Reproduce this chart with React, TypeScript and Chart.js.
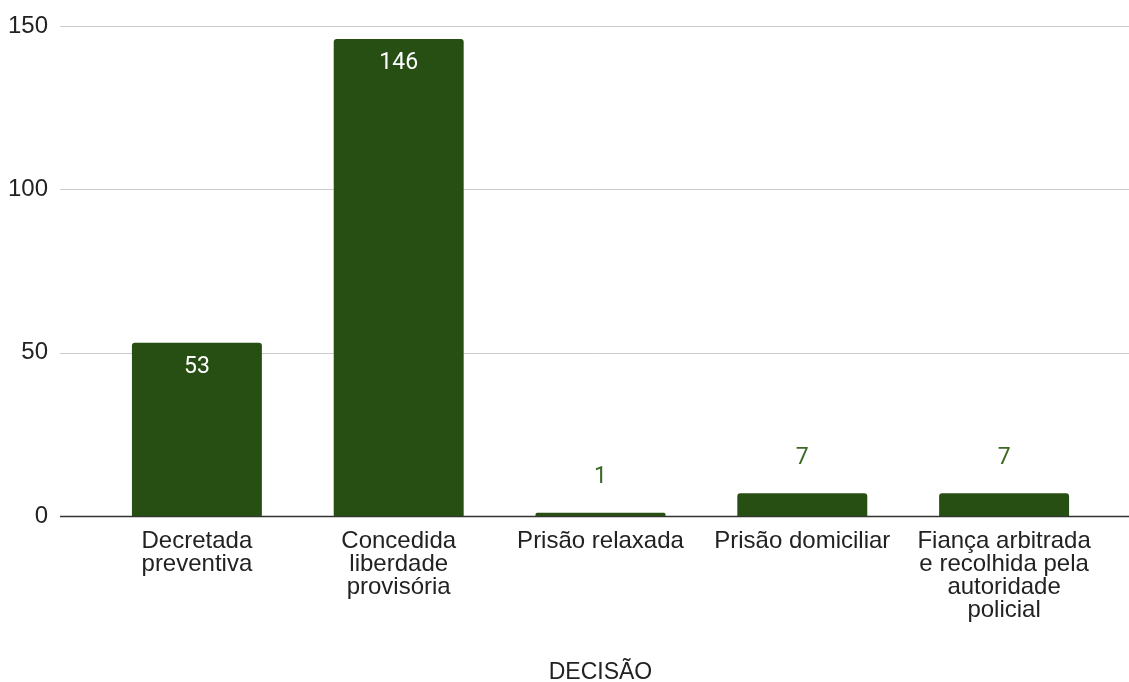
import React, { useEffect, useRef } from "react";
import { Chart, registerables } from "chart.js";

Chart.register(...registerables);

const categories = [
  "Decretada preventiva",
  "Concedida liberdade provisória",
  "Prisão relaxada",
  "Prisão domiciliar",
  "Fiança arbitrada e recolhida pela autoridade policial",
];
const tickLabels = [
  ["Decretada", "preventiva"],
  ["Concedida", "liberdade", "provisória"],
  ["Prisão relaxada"],
  ["Prisão domiciliar"],
  ["Fiança arbitrada", "e recolhida pela", "autoridade", "policial"],
];
const values = [53, 146, 1, 7, 7];
const yTicks = [0, 50, 100, 150];
const xTitle = "DECISÃO";

const BAR = "#274e13";
const LABEL_OUT = "#3b6a25";
const AXIS_FONT = "Liberation Sans, Arial, sans-serif";

const gridPlugin = {
  id: "wideGrid",
  beforeDatasetsDraw(chart: any) {
    const { ctx } = chart;
    const y = chart.scales.y;
    ctx.save();
    yTicks.forEach((t) => {
      const py = Math.round(y.getPixelForValue(t)) + 0.5;
      ctx.beginPath();
      ctx.strokeStyle = t === 0 ? "#333333" : "#cccccc";
      ctx.lineWidth = t === 0 ? 1.5 : 1;
      ctx.moveTo(60, py);
      ctx.lineTo(1129, py);
      ctx.stroke();
    });
    ctx.restore();
  },
};

const labelPlugin = {
  id: "barLabels",
  afterDatasetsDraw(chart: any) {
    const { ctx } = chart;
    const meta = chart.getDatasetMeta(0);
    ctx.save();
    ctx.font = "23px Roboto";
    ctx.textAlign = "center";
    ctx.textBaseline = "middle";
    meta.data.forEach((bar: any, i: number) => {
      const v = values[i];
      const h = bar.base - bar.y;
      if (h > 40) {
        ctx.fillStyle = "#ffffff";
        ctx.fillText(String(v), bar.x, bar.y + 24);
      } else {
        ctx.fillStyle = LABEL_OUT;
        ctx.fillText(String(v), bar.x, bar.y - 35);
      }
    });
    ctx.restore();
  },
};

export default function App() {
  const ref = useRef<HTMLCanvasElement>(null);
  useEffect(() => {
    document.body.style.margin = "0";
    const chart = new Chart(ref.current!, {
      type: "bar",
      data: {
        labels: categories,
        datasets: [
          {
            data: values,
            backgroundColor: BAR,
            borderRadius: 3,
            barPercentage: 0.644,
            categoryPercentage: 1,
          },
        ],
      },
      options: {
        animation: false,
        responsive: false,
        layout: { padding: { top: 26, right: 24, bottom: 0, left: 0 } },
        plugins: { legend: { display: false }, tooltip: { enabled: false } },
        scales: {
          y: {
            min: 0,
            max: 150,
            afterBuildTicks: (s: any) => {
              s.ticks = yTicks.map((v) => ({ value: v }));
            },
            afterFit: (s: any) => {
              s.width = 96;
              s.paddingTop = 0;
              s.paddingBottom = 0;
            },
            grid: { display: false, drawTicks: false },
            border: { display: false },
            ticks: {
              padding: 48,
              color: "#222222",
              font: { family: AXIS_FONT, size: 24 },
            },
          },
          x: {
            afterFit: (s: any) => {
              s.height = 166;
            },
            grid: { display: false, drawTicks: false },
            border: { display: false },
            ticks: {
              padding: 14,
              maxRotation: 0,
              autoSkip: false,
              color: "#222222",
              font: { family: AXIS_FONT, size: 24, lineHeight: "23px" },
              callback: (_v: any, i: number) => tickLabels[i],
            },
            title: {
              display: true,
              text: xTitle,
              color: "#222222",
              font: { family: AXIS_FONT, size: 23, lineHeight: 0.82 },
              padding: { top: 0, bottom: 0 },
            },
          },
        },
      },
      plugins: [gridPlugin, labelPlugin],
    });
    return () => chart.destroy();
  }, []);
  return <canvas ref={ref} width={1129} height={682} style={{ display: "block" }} />;
}
